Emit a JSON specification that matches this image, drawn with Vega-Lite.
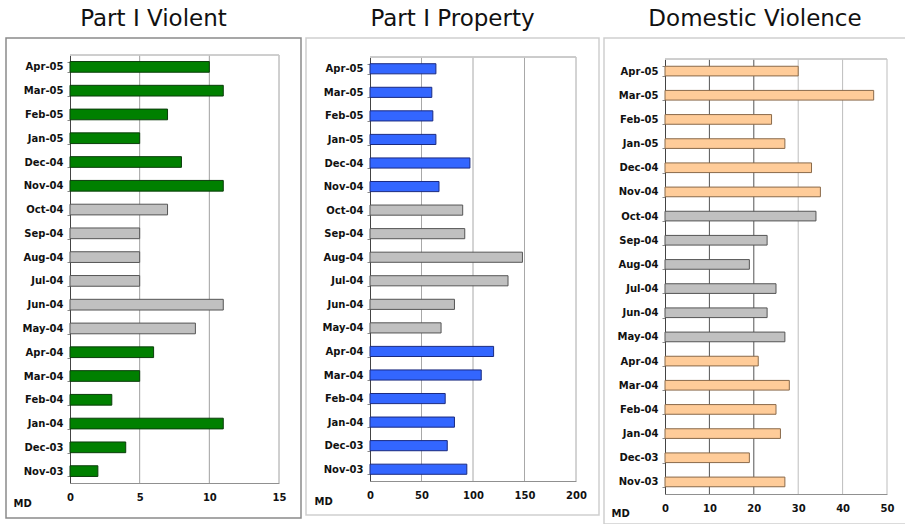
{
  "$schema": "https://vega.github.io/schema/vega-lite/v6.json",
  "background": "white",
  "padding": {"left": 5, "top": 7, "right": 0, "bottom": 0},
  "spacing": 3,
  "resolve": {"scale": {"fill": "independent", "stroke": "independent"}},
  "datasets": {
    "violent": [
      {"month": "Apr-05", "period": "Nov-Apr", "count": 10},
      {"month": "Mar-05", "period": "Nov-Apr", "count": 11},
      {"month": "Feb-05", "period": "Nov-Apr", "count": 7},
      {"month": "Jan-05", "period": "Nov-Apr", "count": 5},
      {"month": "Dec-04", "period": "Nov-Apr", "count": 8},
      {"month": "Nov-04", "period": "Nov-Apr", "count": 11},
      {"month": "Oct-04", "period": "May-Oct", "count": 7},
      {"month": "Sep-04", "period": "May-Oct", "count": 5},
      {"month": "Aug-04", "period": "May-Oct", "count": 5},
      {"month": "Jul-04", "period": "May-Oct", "count": 5},
      {"month": "Jun-04", "period": "May-Oct", "count": 11},
      {"month": "May-04", "period": "May-Oct", "count": 9},
      {"month": "Apr-04", "period": "Nov-Apr", "count": 6},
      {"month": "Mar-04", "period": "Nov-Apr", "count": 5},
      {"month": "Feb-04", "period": "Nov-Apr", "count": 3},
      {"month": "Jan-04", "period": "Nov-Apr", "count": 11},
      {"month": "Dec-03", "period": "Nov-Apr", "count": 4},
      {"month": "Nov-03", "period": "Nov-Apr", "count": 2}
    ],
    "property": [
      {"month": "Apr-05", "period": "Nov-Apr", "count": 64},
      {"month": "Mar-05", "period": "Nov-Apr", "count": 60},
      {"month": "Feb-05", "period": "Nov-Apr", "count": 61},
      {"month": "Jan-05", "period": "Nov-Apr", "count": 64},
      {"month": "Dec-04", "period": "Nov-Apr", "count": 97},
      {"month": "Nov-04", "period": "Nov-Apr", "count": 67},
      {"month": "Oct-04", "period": "May-Oct", "count": 90},
      {"month": "Sep-04", "period": "May-Oct", "count": 92},
      {"month": "Aug-04", "period": "May-Oct", "count": 148},
      {"month": "Jul-04", "period": "May-Oct", "count": 134},
      {"month": "Jun-04", "period": "May-Oct", "count": 82},
      {"month": "May-04", "period": "May-Oct", "count": 69},
      {"month": "Apr-04", "period": "Nov-Apr", "count": 120},
      {"month": "Mar-04", "period": "Nov-Apr", "count": 108},
      {"month": "Feb-04", "period": "Nov-Apr", "count": 73},
      {"month": "Jan-04", "period": "Nov-Apr", "count": 82},
      {"month": "Dec-03", "period": "Nov-Apr", "count": 75},
      {"month": "Nov-03", "period": "Nov-Apr", "count": 94}
    ],
    "domestic": [
      {"month": "Apr-05", "period": "Nov-Apr", "count": 30},
      {"month": "Mar-05", "period": "Nov-Apr", "count": 47},
      {"month": "Feb-05", "period": "Nov-Apr", "count": 24},
      {"month": "Jan-05", "period": "Nov-Apr", "count": 27},
      {"month": "Dec-04", "period": "Nov-Apr", "count": 33},
      {"month": "Nov-04", "period": "Nov-Apr", "count": 35},
      {"month": "Oct-04", "period": "May-Oct", "count": 34},
      {"month": "Sep-04", "period": "May-Oct", "count": 23},
      {"month": "Aug-04", "period": "May-Oct", "count": 19},
      {"month": "Jul-04", "period": "May-Oct", "count": 25},
      {"month": "Jun-04", "period": "May-Oct", "count": 23},
      {"month": "May-04", "period": "May-Oct", "count": 27},
      {"month": "Apr-04", "period": "Nov-Apr", "count": 21},
      {"month": "Mar-04", "period": "Nov-Apr", "count": 28},
      {"month": "Feb-04", "period": "Nov-Apr", "count": 25},
      {"month": "Jan-04", "period": "Nov-Apr", "count": 26},
      {"month": "Dec-03", "period": "Nov-Apr", "count": 19},
      {"month": "Nov-03", "period": "Nov-Apr", "count": 27}
    ],
    "grid1": [{"v": 5}, {"v": 10}, {"v": 15}],
    "grid2": [{"v": 50}, {"v": 100}, {"v": 150}, {"v": 200}],
    "grid3a": [{"v": 10}, {"v": 20}],
    "grid3b": [{"v": 30}, {"v": 40}, {"v": 50}]
  },
  "hconcat": [
    {
      "width": 295,
      "height": 480,
      "title": "Part I Violent",
      "view": {"stroke": "#8a8a8a", "strokeWidth": 1.5},
      "resolve": {"scale": {"y": "independent"}},
      "layer": [
        {
          "data": {"name": "grid1"},
          "mark": {"type": "rule", "color": "#a0a0a0"},
          "encoding": {
            "x": {"field": "v", "type": "quantitative", "scale": {"domain": [0, 15], "range": [64, 273], "nice": false}, "axis": {"orient": "bottom", "offset": -35, "values": [0, 5, 10, 15], "title": null}},
            "y": {"datum": 0, "type": "quantitative", "scale": {"domain": [0, 1], "range": [445, 17]}, "axis": null},
            "y2": {"datum": 1}
          }
        },
        {
          "data": {"name": "grid1"},
          "mark": {"type": "rule", "color": "#c8c8c8"},
          "encoding": {
            "x": {"datum": 0, "type": "quantitative", "scale": {"domain": [0, 15], "range": [64, 273], "nice": false}, "axis": {"orient": "bottom", "offset": -35, "values": [0, 5, 10, 15], "title": null}},
            "x2": {"datum": 15},
            "y": {"datum": 1, "type": "quantitative", "scale": {"domain": [0, 1], "range": [445, 17]}, "axis": null}
          }
        },
        {
          "data": {"name": "violent"},
          "mark": {"type": "bar", "strokeWidth": 1},
          "encoding": {
            "y": {
              "field": "month", "type": "nominal", "sort": null,
              "scale": {"range": [17, 445], "paddingInner": 0.55, "paddingOuter": 0.275},
              "axis": {"orient": "left", "offset": -64, "title": "MD", "titleX": -57, "titleY": 465, "titleAngle": 0, "titleAlign": "left", "titleBaseline": "middle"}
            },
            "x": {
              "field": "count", "type": "quantitative",
              "scale": {"domain": [0, 15], "range": [64, 273], "nice": false},
              "axis": {"orient": "bottom", "offset": -35, "values": [0, 5, 10, 15], "title": null}
            },
            "fill": {"field": "period", "type": "nominal", "scale": {"domain": ["Nov-Apr", "May-Oct"], "range": ["#008000", "#c0c0c0"]}, "legend": null},
            "stroke": {"field": "period", "type": "nominal", "scale": {"domain": ["Nov-Apr", "May-Oct"], "range": ["#0b3d0b", "#555555"]}, "legend": null}
          }
        }
      ]
    },
    {
      "width": 293,
      "height": 477,
      "title": "Part I Property",
      "view": {"stroke": "#cfcfcf", "strokeWidth": 1.5},
      "resolve": {"scale": {"y": "independent"}},
      "layer": [
        {
          "data": {"name": "grid2"},
          "mark": {"type": "rule", "color": "#a8a8a8"},
          "encoding": {
            "x": {"field": "v", "type": "quantitative", "scale": {"domain": [0, 200], "range": [64, 270], "nice": false}, "axis": {"orient": "bottom", "offset": -34, "values": [0, 50, 100, 150, 200], "title": null}},
            "y": {"datum": 0, "type": "quantitative", "scale": {"domain": [0, 1], "range": [443, 19]}, "axis": null},
            "y2": {"datum": 1}
          }
        },
        {
          "data": {"name": "grid2"},
          "mark": {"type": "rule", "color": "#c8c8c8"},
          "encoding": {
            "x": {"datum": 0, "type": "quantitative", "scale": {"domain": [0, 200], "range": [64, 270], "nice": false}, "axis": {"orient": "bottom", "offset": -34, "values": [0, 50, 100, 150, 200], "title": null}},
            "x2": {"datum": 200},
            "y": {"datum": 1, "type": "quantitative", "scale": {"domain": [0, 1], "range": [443, 19]}, "axis": null}
          }
        },
        {
          "data": {"name": "property"},
          "mark": {"type": "bar", "strokeWidth": 1},
          "encoding": {
            "y": {
              "field": "month", "type": "nominal", "sort": null,
              "scale": {"range": [19, 443], "paddingInner": 0.57, "paddingOuter": 0.285},
              "axis": {"orient": "left", "offset": -64, "title": "MD", "titleX": -56, "titleY": 463, "titleAngle": 0, "titleAlign": "left", "titleBaseline": "middle"}
            },
            "x": {
              "field": "count", "type": "quantitative",
              "scale": {"domain": [0, 200], "range": [64, 270], "nice": false},
              "axis": {"orient": "bottom", "offset": -34, "values": [0, 50, 100, 150, 200], "title": null}
            },
            "fill": {"field": "period", "type": "nominal", "scale": {"domain": ["Nov-Apr", "May-Oct"], "range": ["#3366ff", "#c0c0c0"]}, "legend": null},
            "stroke": {"field": "period", "type": "nominal", "scale": {"domain": ["Nov-Apr", "May-Oct"], "range": ["#1a2a80", "#555555"]}, "legend": null}
          }
        }
      ]
    },
    {
      "width": 302,
      "height": 486,
      "title": "Domestic Violence",
      "view": {"stroke": "#cfcfcf", "strokeWidth": 1.5},
      "resolve": {"scale": {"y": "independent"}},
      "layer": [
        {
          "data": {"name": "grid3a"},
          "mark": {"type": "rule", "color": "#555555"},
          "encoding": {
            "x": {"field": "v", "type": "quantitative", "scale": {"domain": [0, 50], "range": [61, 283], "nice": false}, "axis": {"orient": "bottom", "offset": -30, "values": [0, 10, 20, 30, 40, 50], "title": null}},
            "y": {"datum": 0, "type": "quantitative", "scale": {"domain": [0, 1], "range": [456, 21]}, "axis": null},
            "y2": {"datum": 1}
          }
        },
        {
          "data": {"name": "grid3b"},
          "mark": {"type": "rule", "color": "#bdbdbd"},
          "encoding": {
            "x": {"field": "v", "type": "quantitative", "scale": {"domain": [0, 50], "range": [61, 283], "nice": false}, "axis": {"orient": "bottom", "offset": -30, "values": [0, 10, 20, 30, 40, 50], "title": null}},
            "y": {"datum": 0, "type": "quantitative", "scale": {"domain": [0, 1], "range": [456, 21]}, "axis": null},
            "y2": {"datum": 1}
          }
        },
        {
          "data": {"name": "grid3b"},
          "mark": {"type": "rule", "color": "#c8c8c8"},
          "encoding": {
            "x": {"datum": 0, "type": "quantitative", "scale": {"domain": [0, 50], "range": [61, 283], "nice": false}, "axis": {"orient": "bottom", "offset": -30, "values": [0, 10, 20, 30, 40, 50], "title": null}},
            "x2": {"datum": 50},
            "y": {"datum": 1, "type": "quantitative", "scale": {"domain": [0, 1], "range": [456, 21]}, "axis": null}
          }
        },
        {
          "data": {"name": "domestic"},
          "mark": {"type": "bar", "strokeWidth": 1},
          "encoding": {
            "y": {
              "field": "month", "type": "nominal", "sort": null,
              "scale": {"range": [21, 456], "paddingInner": 0.6, "paddingOuter": 0.3},
              "axis": {"orient": "left", "offset": -61, "title": "MD", "titleX": -54, "titleY": 475, "titleAngle": 0, "titleAlign": "left", "titleBaseline": "middle"}
            },
            "x": {
              "field": "count", "type": "quantitative",
              "scale": {"domain": [0, 50], "range": [61, 283], "nice": false},
              "axis": {"orient": "bottom", "offset": -30, "values": [0, 10, 20, 30, 40, 50], "title": null}
            },
            "fill": {"field": "period", "type": "nominal", "scale": {"domain": ["Nov-Apr", "May-Oct"], "range": ["#ffcc99", "#c0c0c0"]}, "legend": null},
            "stroke": {"field": "period", "type": "nominal", "scale": {"domain": ["Nov-Apr", "May-Oct"], "range": ["#8a6a4a", "#555555"]}, "legend": null}
          }
        }
      ]
    }
  ],
  "config": {
    "font": "DejaVu Sans",
    "title": {"font": "DejaVu Sans", "fontSize": 23, "fontWeight": "normal", "color": "#111111", "offset": 2, "baseline": "alphabetic", "anchor": "middle"},
    "axis": {
      "grid": false,
      "labelFont": "DejaVu Sans",
      "labelFontSize": 10,
      "labelFontWeight": "bold",
      "labelColor": "#111111",
      "titleFont": "DejaVu Sans",
      "titleFontSize": 10,
      "titleFontWeight": "bold",
      "titleColor": "#111111",
      "labelFlush": false
    },
    "axisLeft": {"domainColor": "#444444", "tickColor": "#888888", "tickSize": 3, "tickBand": "extent", "labelPadding": 4},
    "axisBottom": {"domainColor": "#909090", "ticks": false, "labelPadding": 9}
  }
}
